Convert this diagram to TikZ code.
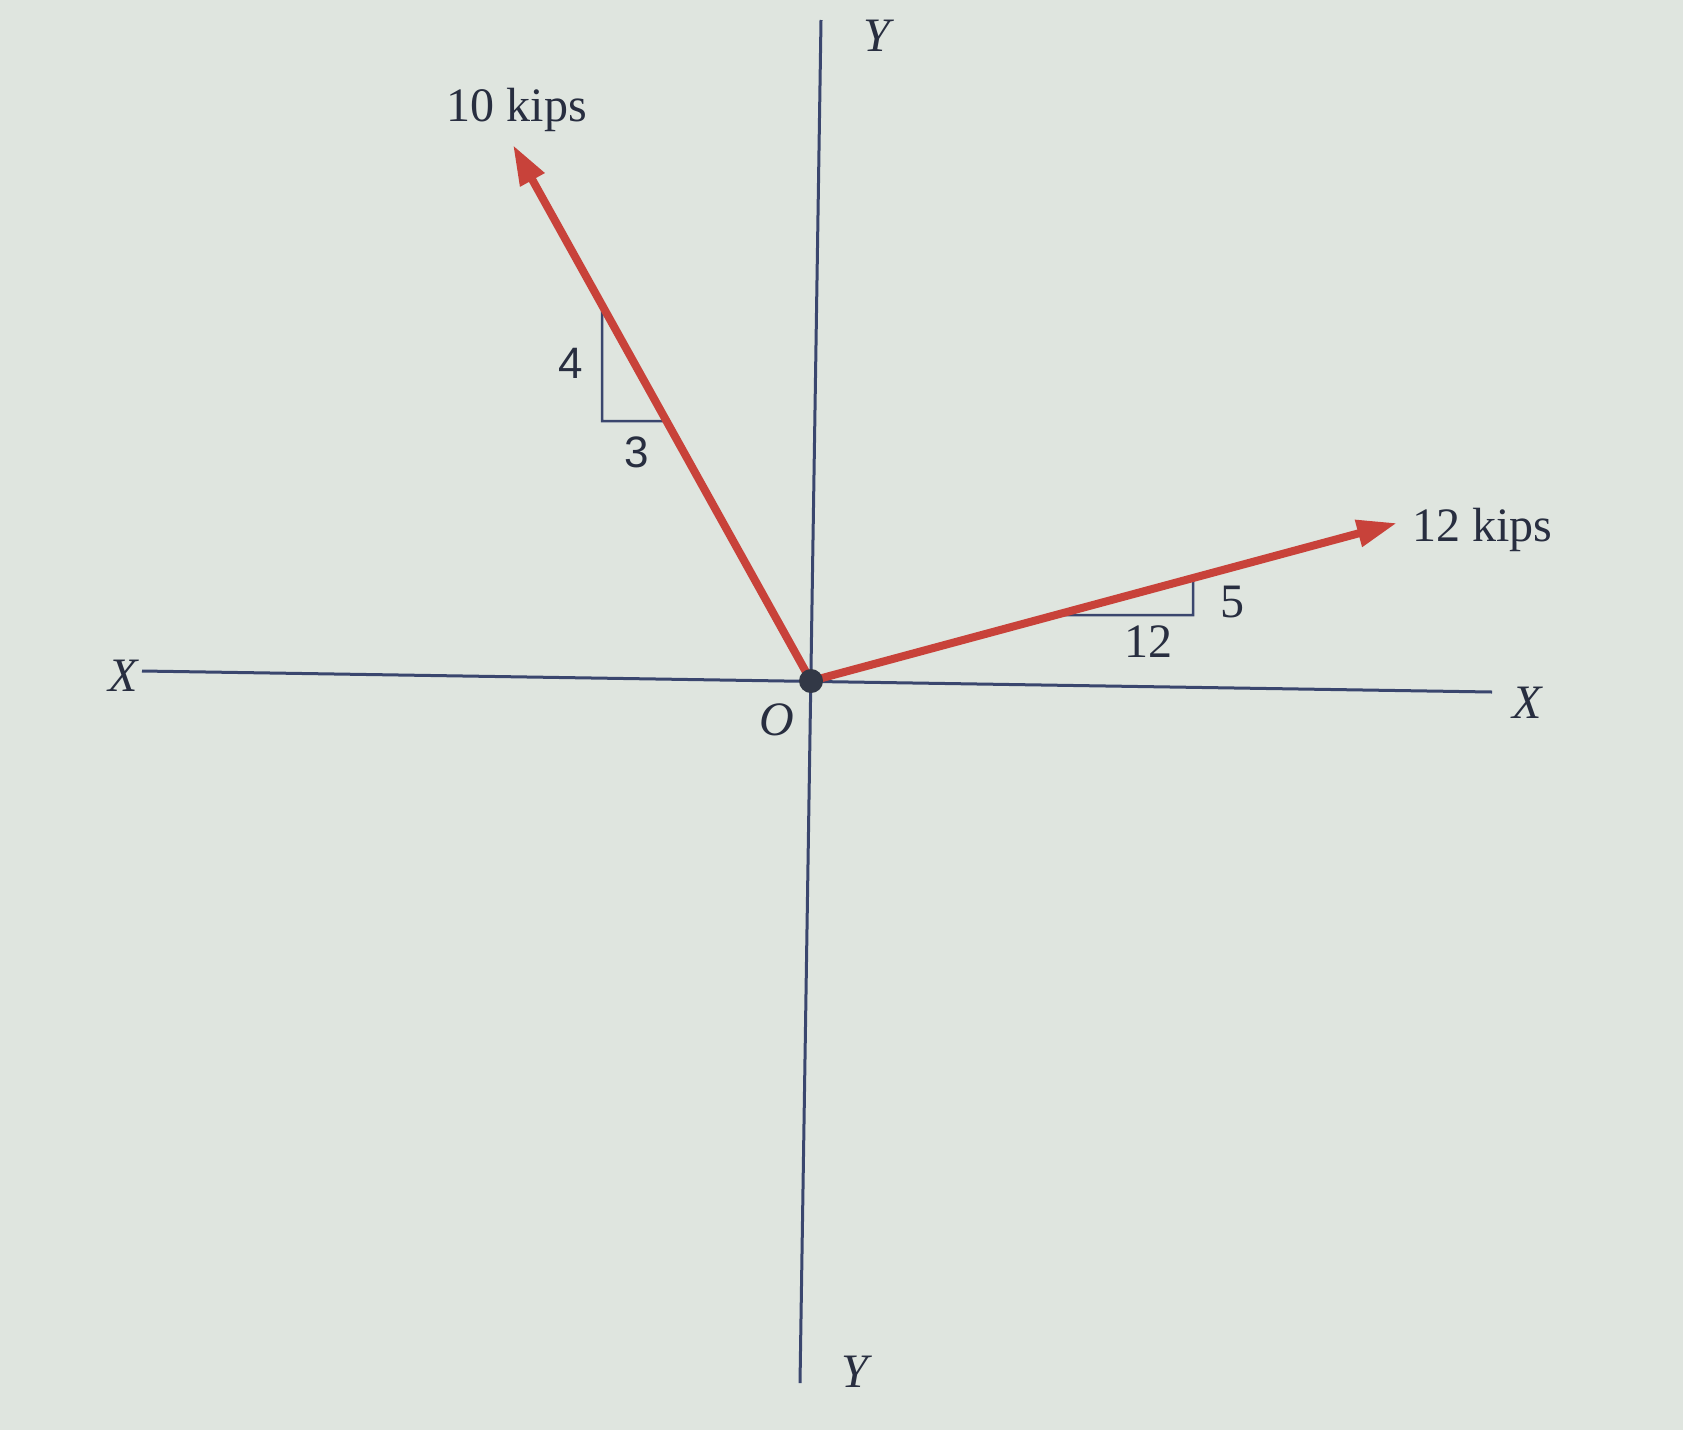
\documentclass[tikz,border=0pt]{standalone}
\usepackage{fontspec}
\setmainfont{Liberation Serif}
\newfontfamily\sansdigits{Liberation Sans}
\usetikzlibrary{arrows.meta}
\definecolor{bgc}{RGB}{223,229,223}
\definecolor{axisc}{RGB}{58,70,110}
\definecolor{forcec}{RGB}{200,66,58}
\definecolor{txtc}{RGB}{40,46,64}
\definecolor{dotc}{RGB}{50,56,70}
\begin{document}
\begin{tikzpicture}[x=1pt,y=-1pt,
  axis/.style={draw=axisc, line width=3pt},
  force/.style={draw=forcec, line width=8pt, -{Triangle[length=40pt,width=26pt]}},
  slopebox/.style={draw=axisc, line width=2.5pt},
  lbl/.style={font=\fontsize{48}{56}\selectfont, text=txtc, inner sep=0pt},
  ilbl/.style={lbl, font=\fontsize{48}{56}\selectfont\itshape},
  slbl/.style={font=\fontsize{44}{52}\selectfont\sansdigits, text=txtc, inner sep=0pt}]
\fill[bgc] (0,0) rectangle (1683,1430);
\useasboundingbox (0,0) rectangle (1683,1430);
% axis ends
\coordinate (O) at (811,681);
\coordinate (Yt) at (821,20);
\coordinate (Yb) at (800,1383);
\coordinate (Xl) at (142,671);
\coordinate (Xr) at (1492,692);
\draw[axis] (Xl) -- (Xr);
\draw[axis] (Yt) -- (Yb);
% force tips
\coordinate (T10) at (513,145);
\coordinate (T12) at (1397,523);
% slope triangle 4/3
\coordinate (c43) at (602,421);
\draw[slopebox] (intersection of O--T10 and 602,0--602,700) -- (c43) -- (intersection of O--T10 and 0,421--800,421);
% slope triangle 12/5
\coordinate (c125) at (1193,615);
\draw[slopebox] (intersection of O--T12 and 1193,0--1193,700) -- (c125) -- (intersection of O--T12 and 800,615--1300,615);
% forces
\draw[force] (O) -- (T10);
\draw[force] (O) -- (T12);
\node[circle, fill=dotc, minimum size=24pt, inner sep=0pt] (dot) at (O) {};
% labels
\node[lbl] (l10) at (517,110) {10 kips};
\node[lbl, anchor=west] (l12) at (1412,530) {12 kips};
\node[slbl] (n4) at (571,363) {4};
\node[slbl] (n3) at (637,452) {3};
\node[lbl] (n5) at (1232,602) {5};
\node[lbl] (n12) at (1148,642) {12};
\node[ilbl] (xl) at (123,676) {X};
\node[ilbl] (xr) at (1527,703) {X};
\node[ilbl] (yt) at (877,36) {Y};
\node[ilbl] (yb) at (855,1372) {Y};
\node[ilbl] (ol) at (777,720) {O};
\end{tikzpicture}
\end{document}
